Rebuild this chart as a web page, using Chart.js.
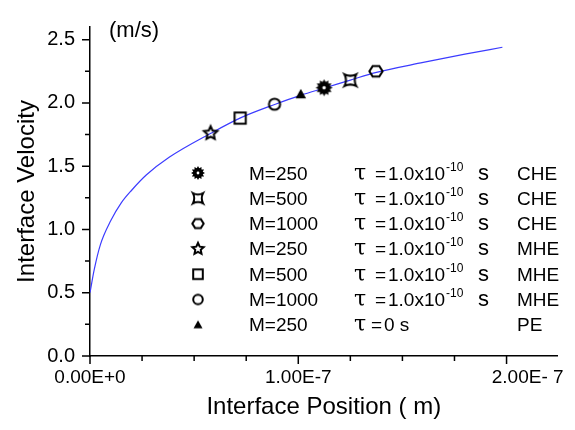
<!DOCTYPE html>
<html>
<head>
<meta charset="utf-8">
<script src="https://cdn.jsdelivr.net/npm/chart.js@4.4.1/dist/chart.umd.min.js"></script>
<style>
  body { margin: 0; background: #fff; }
</style>
</head>
<body>
<canvas id="chart" width="575" height="430"></canvas>
<script>
// Fitted curve (position in units of 1e-7 m, velocity in m/s)
const curvePos = [0, 0.02, 0.05, 0.1, 0.15, 0.2, 0.27, 0.38, 0.58, 0.72, 0.89, 1.01, 1.13, 1.25, 1.37, 1.6, 1.8, 1.98];
const curveVel = [0.50, 0.68, 0.88, 1.07, 1.21, 1.31, 1.43, 1.57, 1.76, 1.88, 1.99, 2.06, 2.12, 2.18, 2.24, 2.32, 2.385, 2.44];

// Simulation points, one per legend row
const markerPos = [1.124, 1.250, 1.373, 0.579, 0.721, 0.886, 1.012];
const markerVel = [2.12, 2.18, 2.25, 1.76, 1.88, 1.99, 2.07];
const markerKinds = ["burst", "squircle", "hexagon", "star", "square", "circle", "triangle"];

// Legend text
const legendM = ["M=250", "M=500", "M=1000", "M=250", "M=500", "M=1000", "M=250"];
const legendTau = ["1.0x10", "1.0x10", "1.0x10", "1.0x10", "1.0x10", "1.0x10", "0 s"];
const legendModel = ["CHE", "CHE", "CHE", "MHE", "MHE", "MHE", "PE"];

// Axis ticks
const xTickValues = [0, 1, 2];
const xTickLabels = ["0.00E+0", "1.00E-7", "        2.00E- 7"];
const yTickValues = [0, 0.5, 1.0, 1.5, 2.0, 2.5];
const yTickLabels = ["0.0", "0.5", "1.0", "1.5", "2.0", "2.5"];

const FONT = "'Liberation Sans', Arial, sans-serif";

// Draw one marker symbol into a small canvas used as pointStyle
function makeMarker(kind, size) {
    const pad = 3;
    const c = document.createElement("canvas");
    c.width = c.height = size + pad * 2;
    const ctx = c.getContext("2d");
    const m = c.width / 2;
    const r = size / 2;
    ctx.translate(m, m);
    ctx.lineWidth = 2;
    ctx.strokeStyle = "#000";
    ctx.fillStyle = "#000";
    ctx.beginPath();

    if (kind === "burst") {
        for (let i = 0; i < 24; i++) {
            const a = i * Math.PI / 12;
            const rr = i % 2 ? r * 0.7 : r;
            ctx.lineTo(rr * Math.cos(a), rr * Math.sin(a));
        }
        ctx.closePath();
        ctx.fill();
        ctx.fillStyle = "#fff";
        ctx.beginPath();
        ctx.arc(0, 0, r * 0.2, 0, Math.PI * 2);
        ctx.fill();
    } else if (kind === "squircle") {
        const h = r * 0.85, k = r * 0.4;
        ctx.moveTo(-h, -h);
        ctx.quadraticCurveTo(0, -k, h, -h);
        ctx.quadraticCurveTo(k, 0, h, h);
        ctx.quadraticCurveTo(0, k, -h, h);
        ctx.quadraticCurveTo(-k, 0, -h, -h);
        ctx.closePath();
        ctx.stroke();
    } else if (kind === "hexagon") {
        for (let i = 0; i < 6; i++) {
            const a = i * Math.PI / 3;
            ctx.lineTo(r * 0.95 * Math.cos(a), r * 0.85 * Math.sin(a));
        }
        ctx.closePath();
        ctx.stroke();
    } else if (kind === "star") {
        for (let i = 0; i < 10; i++) {
            const a = -Math.PI / 2 + i * Math.PI / 5;
            const rr = i % 2 ? r * 0.48 : r;
            ctx.lineTo(rr * Math.cos(a), rr * Math.sin(a));
        }
        ctx.closePath();
        ctx.stroke();
    } else if (kind === "square") {
        ctx.strokeRect(-r * 0.8, -r * 0.8, r * 1.6, r * 1.6);
    } else if (kind === "circle") {
        ctx.arc(0, 0, r * 0.8, 0, Math.PI * 2);
        ctx.stroke();
    } else if (kind === "triangle") {
        ctx.moveTo(0, -r * 0.75);
        ctx.lineTo(r * 0.75, r * 0.6);
        ctx.lineTo(-r * 0.75, r * 0.6);
        ctx.closePath();
        ctx.fill();
    }
    return c;
}

const plotMarkers = markerKinds.map(k => makeMarker(k, k === "burst" ? 17 : 14));
const legendMarkers = markerKinds.map(k => makeMarker(k, k === "burst" ? 14 : 12));

function near(a, b) {
    return Math.abs(a - b) < 1e-6;
}

// Major/minor tick marks drawn outward from the axes
const tickMarks = {
    id: "tickMarks",
    afterDraw(chart) {
        const ctx = chart.ctx;
        const xs = chart.scales.x;
        const ys = chart.scales.y;
        ctx.save();
        ctx.strokeStyle = "#000";
        ctx.lineWidth = 1.5;
        ctx.beginPath();
        xs.ticks.forEach(t => {
            const px = xs.getPixelForValue(t.value);
            const len = xTickValues.some(v => near(v, t.value)) ? 8 : 5;
            ctx.moveTo(px, xs.top);
            ctx.lineTo(px, xs.top + len);
        });
        ys.ticks.forEach(t => {
            const py = ys.getPixelForValue(t.value);
            const len = yTickValues.some(v => near(v, t.value)) ? 8 : 5;
            ctx.moveTo(ys.right, py);
            ctx.lineTo(ys.right - len, py);
        });
        ctx.stroke();
        ctx.restore();
    }
};

// Unit note and the text legend inside the plot
const legendBox = {
    id: "legendBox",
    afterDraw(chart) {
        const ctx = chart.ctx;
        ctx.save();
        ctx.fillStyle = "#000";
        ctx.textBaseline = "alphabetic";
        ctx.textAlign = "left";

        ctx.font = "22px " + FONT;
        ctx.fillText("(m/s)", 109, 37);

        for (let i = 0; i < legendM.length; i++) {
            const rowY = 173 + i * 25.3;
            const base = rowY + 6.5;
            const img = legendMarkers[i];
            ctx.drawImage(img, 198 - img.width / 2, rowY - img.height / 2);

            ctx.font = "19px " + FONT;
            ctx.fillText(legendM[i], 249, base);

            ctx.font = "22px 'DejaVu Serif', serif";
            ctx.fillText("\u03C4", 354, base);

            ctx.font = "19px " + FONT;
            if (legendTau[i] === "0 s") {
                ctx.fillText("=", 371, base);
                ctx.fillText(legendTau[i], 384, base);
            } else {
                ctx.fillText("=", 375, base);
                ctx.fillText(legendTau[i], 388, base);
                const w = ctx.measureText(legendTau[i]).width;
                ctx.font = "12px " + FONT;
                ctx.fillText("-10", 388 + w + 1, base - 9);
                ctx.font = "22px " + FONT;
                ctx.fillText("s", 478, base);
            }
            ctx.font = "19px " + FONT;
            ctx.fillText(legendModel[i], 517, base);
        }
        ctx.restore();
    }
};

const datasets = [{
    label: "fit",
    data: curvePos.map((x, i) => ({ x: x, y: curveVel[i] })),
    borderColor: "rgb(60, 60, 255)",
    borderWidth: 1.2,
    pointRadius: 0,
    cubicInterpolationMode: "monotone",
    showLine: true,
    order: 2
}];

markerKinds.forEach((k, i) => {
    datasets.push({
        label: legendM[i] + " " + legendModel[i],
        data: [{ x: markerPos[i], y: markerVel[i] }],
        pointStyle: plotMarkers[i],
        pointRadius: 7,
        showLine: false,
        order: 1
    });
});

const xMinorTicks = [];
for (let v = 0; v <= 2.25; v += 0.25) xMinorTicks.push({ value: Math.round(v * 100) / 100 });
const yMinorTicks = [];
for (let v = 0; v <= 2.5; v += 0.25) yMinorTicks.push({ value: Math.round(v * 100) / 100 });

new Chart(document.getElementById("chart"), {
    type: "scatter",
    data: { datasets: datasets },
    options: {
        responsive: false,
        animation: false,
        events: [],
        layout: { padding: { top: 7, right: 13, left: 0, bottom: 0 } },
        plugins: {
            legend: { display: false },
            tooltip: { enabled: false }
        },
        scales: {
            x: {
                type: "linear",
                min: 0,
                max: 2.245,
                afterBuildTicks: s => { s.ticks = xMinorTicks.filter(t => t.value <= 2.245); },
                afterFit: s => { s.height = 74; },
                grid: { drawOnChartArea: false, drawTicks: false },
                border: { color: "#000", width: 1.5 },
                ticks: {
                    autoSkip: false,
                    maxRotation: 0,
                    padding: 10,
                    color: "#000",
                    font: { family: FONT, size: 19 },
                    callback: v => {
                        const i = xTickValues.findIndex(t => near(t, v));
                        return i >= 0 ? xTickLabels[i] : "";
                    }
                },
                title: {
                    display: true,
                    text: "Interface Position ( m)",
                    color: "#000",
                    font: { family: FONT, size: 24 },
                    padding: { top: 0, bottom: 8 }
                }
            },
            y: {
                type: "linear",
                min: 0,
                max: 2.6,
                afterBuildTicks: s => { s.ticks = yMinorTicks.slice(); },
                afterFit: s => { s.width = 90; },
                grid: { drawOnChartArea: false, drawTicks: false },
                border: { color: "#000", width: 1.5 },
                ticks: {
                    autoSkip: false,
                    padding: 15,
                    color: "#000",
                    font: { family: FONT, size: 20 },
                    callback: v => {
                        const i = yTickValues.findIndex(t => near(t, v));
                        return i >= 0 ? yTickLabels[i] : "";
                    }
                },
                title: {
                    display: true,
                    text: "Interface Velocity",
                    color: "#000",
                    font: { family: FONT, size: 24 },
                    padding: { top: 13, bottom: 0 }
                }
            }
        }
    },
    plugins: [tickMarks, legendBox]
});
</script>
</body>
</html>
